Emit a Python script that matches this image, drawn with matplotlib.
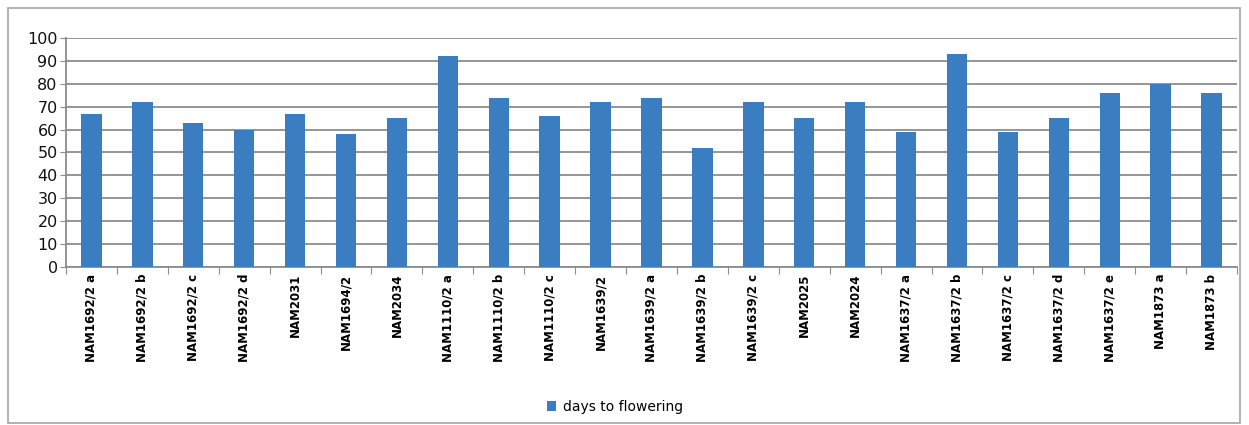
import matplotlib.pyplot as plt
from matplotlib.patches import Rectangle
import numpy as np

# days to flowering per accession
accessions = [
    "NAM1692/2 a", "NAM1692/2 b", "NAM1692/2 c", "NAM1692/2 d", "NAM2031",
    "NAM1694/2", "NAM2034", "NAM1110/2 a", "NAM1110/2 b", "NAM1110/2 c",
    "NAM1639/2", "NAM1639/2 a", "NAM1639/2 b", "NAM1639/2 c", "NAM2025",
    "NAM2024", "NAM1637/2 a", "NAM1637/2 b", "NAM1637/2 c", "NAM1637/2 d",
    "NAM1637/2 e", "NAM1873 a", "NAM1873 b",
]
days = [67, 72, 63, 60, 67, 58, 65, 92, 74, 66, 72, 74, 52, 72, 65,
        72, 59, 93, 59, 65, 76, 80, 76]
yticks = list(range(0, 101, 10))

BAR = "#3A7EC1"
GRID = "#8c8c8c"

fig = plt.figure(figsize=(12.49, 4.25), dpi=100)
fig.patches.append(Rectangle((8 / 1249, 2 / 425), 1232 / 1249, 415 / 425,
                             transform=fig.transFigure, fill=False,
                             edgecolor="#a6a6a6", linewidth=1.2))

ax = fig.add_axes([66 / 1249, 1 - 267 / 425, (1237 - 66) / 1249, (267 - 38) / 425])
x = np.arange(len(accessions))
ax.bar(x, days, width=0.4, color=BAR, zorder=3, label="days to flowering")

ax.set_xlim(-0.5, len(accessions) - 0.5)
ax.set_ylim(0, 100)
ax.set_yticks(yticks)
ax.set_yticklabels([str(v) for v in yticks], fontsize=11.5, color="#111111")
ax.yaxis.grid(True, color=GRID, linewidth=1.3, zorder=0)
ax.tick_params(axis="y", length=4, color=GRID, pad=2)

# category ticks sit between the bars
ax.set_xticks(np.arange(-0.5, len(accessions)), minor=False)
ax.set_xticklabels([])
ax.tick_params(axis="x", length=5, color=GRID)
for xi, name in zip(x, accessions):
    ax.text(xi, -3, name, rotation=90, ha="center", va="top",
            fontsize=8.5, fontweight="heavy", color="black",
            family=["Liberation Sans Narrow", "DejaVu Sans"],
            transform=ax.transData, clip_on=False)

for side in ("top", "right"):
    ax.spines[side].set_visible(False)
ax.spines["left"].set_color(GRID)
ax.spines["bottom"].set_color(GRID)
ax.spines["left"].set_linewidth(1.3)
ax.spines["bottom"].set_linewidth(1.3)

fig.legend(loc="center", bbox_to_anchor=(615 / 1249, 1 - 407 / 425),
           frameon=False, fontsize=10, handlelength=0.7, handleheight=0.7,
           handletextpad=0.5)

fig.savefig("out.png", dpi=100, facecolor="white")
